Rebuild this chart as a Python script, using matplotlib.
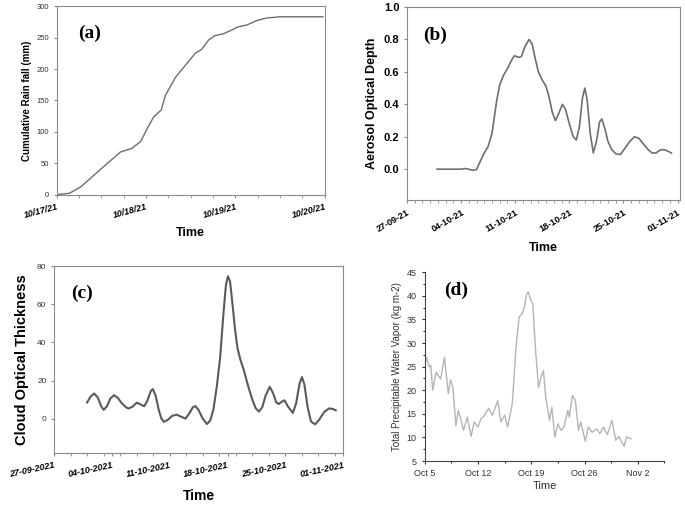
import numpy as np
import pandas as pd
import matplotlib
matplotlib.use("Agg")
import matplotlib.pyplot as plt
import matplotlib.dates as mdates
from matplotlib.ticker import MultipleLocator, FormatStrFormatter

plt.rcParams['font.family'] = ['Liberation Sans', 'DejaVu Sans']

# (a) cumulative rainfall, days after 10/17/21 00:00
rain_days = [0.0, 0.14, 0.27, 0.42, 0.565, 0.71, 0.84, 0.94, 1.01, 1.085, 1.17,
             1.215, 1.33, 1.44, 1.55, 1.62, 1.70, 1.77, 1.865, 1.96, 2.03, 2.13,
             2.24, 2.35, 2.50, 2.98]
rain_mm = [0.5, 2.6, 13, 32, 50, 68, 74, 85, 105, 124, 135,
           158, 187, 206, 225, 231, 246, 253, 256, 262, 267, 270,
           277, 281, 283, 283]

# (b) aerosol optical depth, days after 27-09-21
aod_days = [3.9, 5.5, 7.0, 7.5, 8.0, 8.5, 9.0, 9.5, 10.0, 10.5, 11.0, 11.3, 11.6,
            12.0, 12.5, 13.0, 13.5, 13.9, 14.4, 14.8, 15.3, 15.8, 16.2, 16.6,
            17.0, 17.5, 18.0, 18.4, 18.8, 19.2, 19.6, 20.1, 20.5, 21.0, 21.5,
            21.9, 22.3, 22.7, 23.0, 23.3, 23.7, 24.1, 24.5, 24.9, 25.2, 25.6,
            26.0, 26.5, 27.0, 27.6, 28.2, 28.8, 29.4, 30.0, 30.5, 31.2, 31.7,
            32.2, 32.8, 33.3, 33.8, 34.2]
aod = [0.0, 0.0, 0.0, 0.004, 0.0, -0.007, -0.003, 0.05, 0.10, 0.14, 0.22, 0.32, 0.42,
       0.52, 0.58, 0.62, 0.67, 0.70, 0.69, 0.695, 0.76, 0.80, 0.77, 0.68,
       0.60, 0.55, 0.51, 0.44, 0.35, 0.30, 0.34, 0.40, 0.37, 0.28, 0.20,
       0.18, 0.26, 0.44, 0.50, 0.43, 0.22, 0.10, 0.17, 0.29, 0.31, 0.25,
       0.17, 0.12, 0.095, 0.09, 0.13, 0.17, 0.20, 0.19, 0.16, 0.12, 0.10,
       0.10, 0.12, 0.12, 0.11, 0.10]

# (c) cloud optical thickness, days after 27-09-2021
cot_days = [4.0, 4.4, 4.85, 5.3, 5.7, 6.0, 6.4, 6.8, 7.25, 7.7, 8.2, 8.7, 9.0, 9.5,
            10.0, 10.5, 10.9, 11.3, 11.7, 11.95, 12.3, 12.7, 13.0, 13.3, 13.8,
            14.3, 14.85, 15.4, 15.9, 16.4, 16.8, 17.1, 17.5, 18.0, 18.5, 18.9,
            19.3, 19.7, 20.1, 20.5, 20.8, 21.05, 21.3, 21.6, 21.9, 22.2, 22.55,
            23.0, 23.5, 24.0, 24.4, 24.8, 25.2, 25.6, 26.1, 26.5, 26.9, 27.2,
            27.6, 27.9, 28.3, 28.9, 29.3, 29.7, 30.0, 30.3, 30.7, 31.1, 31.6,
            32.1, 32.7, 33.3, 33.8, 34.1]
cot = [8.5, 11.5, 13.2, 11, 6.5, 4.6, 6.5, 10.5, 12.3, 11, 8.0, 6.0, 5.3, 6.3,
       8.4, 7.4, 6.5, 9.5, 14.5, 15.5, 12, 4, 0, -1.7, -0.5,
       1.5, 2.1, 1.0, 0.0, 3.0, 6.0, 6.6, 4.5, 0, -2.8, -1.0,
       5, 17, 32, 55, 70, 74.7, 72, 60, 47, 37, 31,
       25, 17, 10, 5.5, 3.7, 6, 12, 16.7, 13.5, 8.5, 7.7,
       9.0, 9.6, 6.5, 3.0, 8, 18, 21.8, 18, 6, -1.5, -3.0,
       -0.5, 3.5, 5.4, 5.0, 4.4]

# (d) total precipitable water vapor, days after Oct 5
tpw_days = [0, 0.26, 0.6, 0.8, 1.05, 1.5, 2.1, 2.6, 3.1, 3.4, 3.7, 4.1, 4.4, 4.8,
            5.1, 5.6, 6.1, 6.5, 7.0, 7.4, 7.8, 8.0, 8.4, 8.9, 9.6, 10.0, 10.5,
            10.9, 11.5, 12.0, 12.4, 12.8, 13.1, 13.4, 13.6, 13.95, 14.2, 14.6,
            14.96, 15.3, 15.6, 15.9, 16.4, 16.7, 17.1, 17.5, 17.9, 18.3, 18.8,
            19.0, 19.4, 19.8, 20.2, 20.5, 21.1, 21.5, 22.0, 22.6, 23.0, 23.5,
            24.0, 24.6, 25.1, 25.5, 26.2, 26.5, 27.1]
tpw = [25.6, 26.9, 24.9, 25.3, 20.0, 23.8, 22.4, 27.0, 19.3, 22.2, 20.6, 12.5, 15.7, 13.6,
       11.5, 14.3, 10.2, 13.3, 12.2, 14.0, 14.5, 15.2, 16.1, 14.7, 17.8, 13.3, 14.7,
       12.2, 17.1, 29.1, 35.5, 36.2, 37.7, 40.4, 40.8, 39.0, 38.3, 27.7,
       20.6, 22.8, 24.2, 18.6, 13.6, 16.4, 10.1, 12.9, 11.5, 12.2, 15.7,
       14.3, 18.9, 17.8, 11.5, 13.3, 9.2, 12.2, 11.1, 11.8, 10.8, 12.2,
       10.6, 13.6, 9.4, 10.2, 8.1, 10.1, 9.7]


def to_dates(start, days):
    return pd.Timestamp(start) + pd.to_timedelta(days, unit="D")


fig = plt.figure(figsize=(6.85, 5.05), dpi=100)
frame = '#8a8a8a'

# ---------- (a)
ax = fig.add_axes([0.083, 0.614, 0.391, 0.374])
ax.plot(to_dates("2021-10-17", rain_days), rain_mm, color='#6e6e6e', lw=1.0)
ax.set_xlim(pd.Timestamp("2021-10-17"), pd.Timestamp("2021-10-20"))
ax.set_ylim(0, 300)
ax.yaxis.set_major_locator(MultipleLocator(50))
ax.xaxis.set_major_locator(mdates.DayLocator())
ax.xaxis.set_minor_locator(mdates.HourLocator(byhour=[6, 12, 18]))
ax.xaxis.set_major_formatter(mdates.DateFormatter('%m/%d/%y'))
ax.tick_params(axis='y', labelsize=5.5, colors='#333333', length=2, color=frame)
ax.tick_params(axis='x', which='both', length=2, color=frame)
for lb in ax.get_xticklabels():
    lb.set(rotation=15, ha='right', rotation_mode='anchor', fontsize=6.5,
           fontweight='bold', fontstyle='italic')
ax.set_ylabel('Cumulative Rain fall (mm)', fontsize=7, fontweight='bold', labelpad=3)
ax.set_xlabel('Time', fontsize=9, fontweight='bold', labelpad=5)
ax.text(0.08, 0.83, '(a)', transform=ax.transAxes, family='Liberation Serif',
        fontsize=14, fontweight='bold')
for s in ax.spines.values():
    s.set_color(frame)

# ---------- (b)
ax = fig.add_axes([0.594, 0.604, 0.399, 0.382])
ax.plot(to_dates("2021-09-27", aod_days), aod, color='#6e6e6e', lw=1.2)
ax.set_xlim(pd.Timestamp("2021-09-27"), pd.Timestamp("2021-11-01 08:00"))
ax.set_ylim(-0.19, 1.0)
ax.set_yticks([0.0, 0.2, 0.4, 0.6, 0.8, 1.0])
ax.yaxis.set_major_formatter(FormatStrFormatter('%.1f'))
ax.set_xticks(to_dates("2021-09-27", [0, 7, 14, 21, 28, 35]))
ax.xaxis.set_minor_locator(mdates.DayLocator())
ax.xaxis.set_major_formatter(mdates.DateFormatter('%d-%m-%y'))
ax.tick_params(axis='y', labelsize=8, length=2, color=frame)
for lb in ax.get_yticklabels():
    lb.set_fontweight('bold')
ax.tick_params(axis='x', which='both', length=2, color=frame)
for lb in ax.get_xticklabels():
    lb.set(rotation=30, ha='right', rotation_mode='anchor', fontsize=6.5,
           fontweight='bold')
ax.set_ylabel('Aerosol Optical Depth', fontsize=9, fontweight='bold', labelpad=4)
ax.set_xlabel('Time', fontsize=9, fontweight='bold', labelpad=6)
ax.text(0.06, 0.83, '(b)', transform=ax.transAxes, family='Liberation Serif',
        fontsize=14, fontweight='bold')
for s in ax.spines.values():
    s.set_color(frame)

# ---------- (c)
ax = fig.add_axes([0.079, 0.103, 0.422, 0.370])
ax.plot(to_dates("2021-09-27", cot_days), cot, color='#5a5a5a', lw=1.5)
ax.set_xlim(pd.Timestamp("2021-09-27"), pd.Timestamp("2021-11-01"))
ax.set_ylim(-18, 80)
ax.set_yticks([0, 20, 40, 60, 80])
ax.set_xticks(to_dates("2021-09-27", [0, 7, 14, 21, 28, 35]))
ax.xaxis.set_minor_locator(mdates.DayLocator(interval=2))
ax.xaxis.set_major_formatter(mdates.DateFormatter('%d-%m-%Y'))
ax.tick_params(axis='y', labelsize=6, colors='#333333', length=2, color=frame)
ax.tick_params(axis='x', which='both', length=2, color=frame)
for lb in ax.get_xticklabels():
    lb.set(rotation=12, ha='right', rotation_mode='anchor', fontsize=6.5,
           fontweight='bold', fontstyle='italic')
ax.set_ylabel('Cloud Optical Thickness', fontsize=10.5, fontweight='bold', labelpad=6)
ax.set_xlabel('Time', fontsize=10, fontweight='bold', labelpad=7)
ax.text(0.06, 0.83, '(c)', transform=ax.transAxes, family='Liberation Serif',
        fontsize=14, fontweight='bold')
for s in ax.spines.values():
    s.set_color(frame)

# ---------- (d)
ax = fig.add_axes([0.620, 0.087, 0.350, 0.374])
ax.plot(to_dates("2021-10-05", tpw_days), tpw, color='#b5b5b5', lw=1.0)
ax.set_xlim(pd.Timestamp("2021-10-05"), pd.Timestamp("2021-11-05 12:00"))
ax.set_ylim(5, 45)
ax.yaxis.set_major_locator(MultipleLocator(5))
ax.yaxis.set_minor_locator(MultipleLocator(2.5))
ax.set_xticks(to_dates("2021-10-05", [0, 7, 14, 21, 28]))
ax.set_xticks(to_dates("2021-10-05", [3.5, 10.5, 17.5, 24.5, 31.5]), minor=True)
ax.xaxis.set_major_formatter(mdates.DateFormatter('%b %-d'))
ax.tick_params(which='both', labelsize=6.5, colors='#333333', length=2.5, width=0.8)
ax.tick_params(which='minor', length=1.5)
ax.set_ylabel('Total Precipitable Water Vapor (kg m-2)', fontsize=7, labelpad=3,
              color='#333333')
ax.set_xlabel('Time', fontsize=8, labelpad=2, color='#333333')
ax.text(0.08, 0.88, '(d)', transform=ax.transAxes, family='Liberation Serif',
        fontsize=14, fontweight='bold')
ax.spines['top'].set_visible(False)
ax.spines['right'].set_visible(False)
for s in ['left', 'bottom']:
    ax.spines[s].set_color('#444444')

fig.savefig('out.png', dpi=100)
